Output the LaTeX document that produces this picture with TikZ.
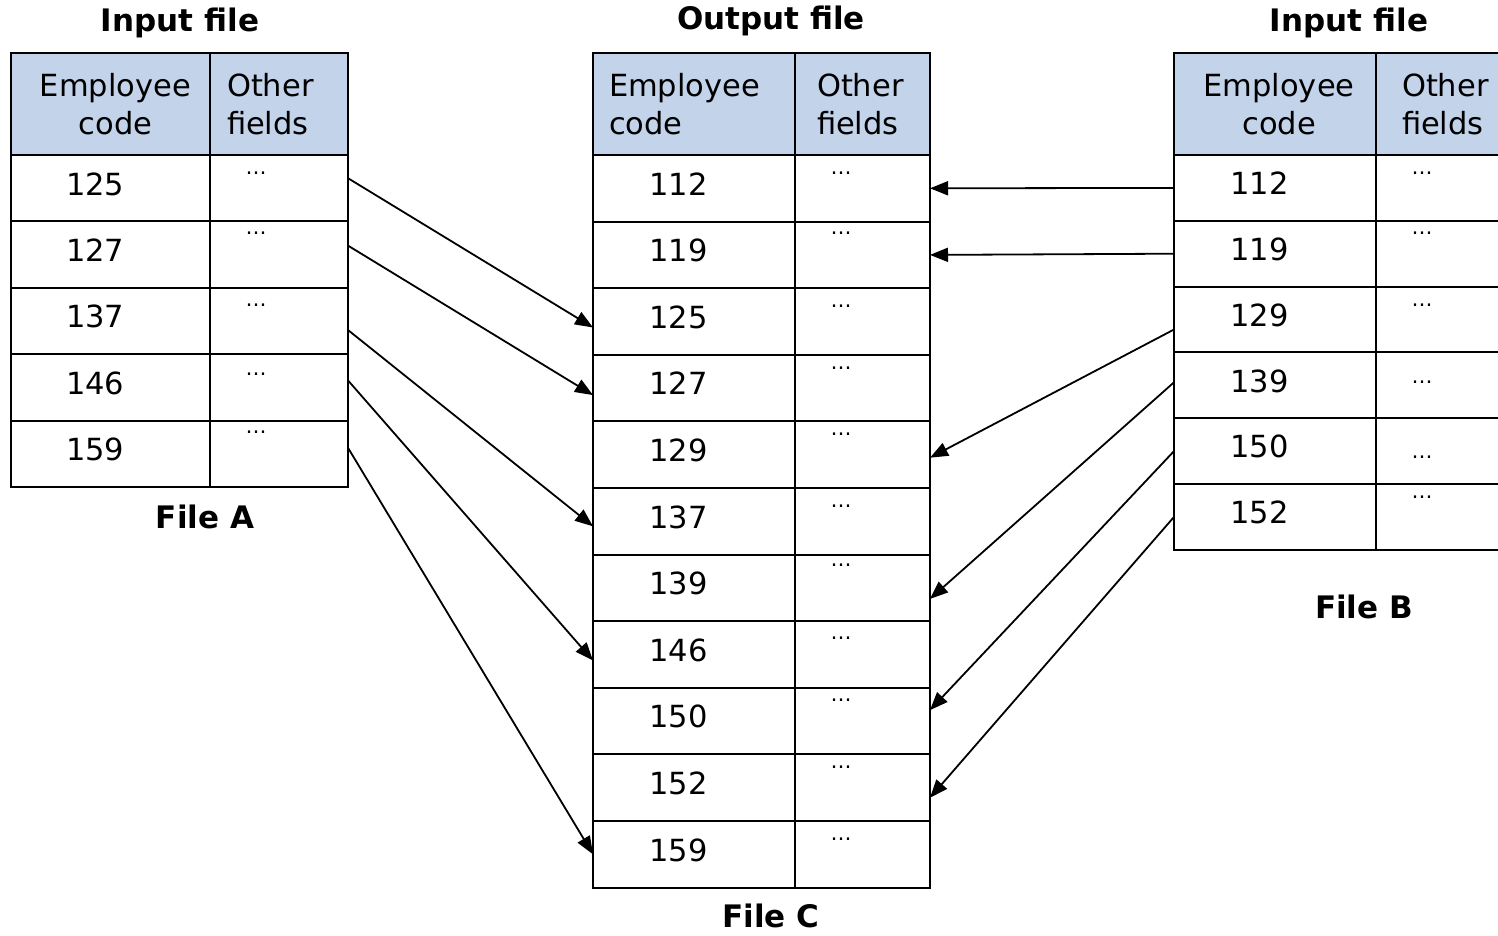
\documentclass[tikz,border=0pt]{standalone}
\usepackage{fontspec}
\setmainfont{DejaVu Sans}
\usetikzlibrary{arrows.meta}
\definecolor{headblue}{RGB}{195,211,234}

\begin{document}
\begin{tikzpicture}[x=1pt,y=-1pt,line width=2pt,
  font=\fontsize{30.5}{38}\selectfont,
  cell/.style={draw,anchor=north west,inner sep=0pt,outer sep=0pt},
  code cell/.style={cell,inner xsep=55pt,text width=89pt,align=left,text depth=9pt},
  head/.style={cell,fill=headblue,minimum height=102pt},
  dots/.style={font=\fontsize{21}{24}\selectfont,inner sep=0pt},
  title/.style={font=\fontsize{31}{38}\selectfont\bfseries},
  link/.style={-{Triangle[length=18pt,width=14pt]},line width=1.8pt}]

  \useasboundingbox (0,0) rectangle (1498,935);

  \node[title] (ttla) at (180,23) {Input file};
  \node[title] (ttlc) at (771,21) {Output file};
  \node[title] (ttlb) at (1349,23) {Input file};

  \node[head,minimum width=199pt,inner xsep=5pt,text width=199pt,align=center] (ah) at (11,53) {Employee\\code};
  \node[head,minimum width=138pt,inner xsep=17pt,text width=104pt,align=left] (axh) at (210,53) {Other\\fields};
  \node[head,minimum width=202pt,inner xsep=16pt,text width=170pt,align=left] (ch) at (593,53) {Employee\\code};
  \node[head,minimum width=135pt,inner xsep=22pt,text width=91pt,align=left] (cxh) at (795,53) {Other\\fields};
  \node[head,minimum width=202pt,inner xsep=4pt,text width=202pt,align=center] (bh) at (1174,53) {Employee\\code};
  \node[head,minimum width=138pt,inner xsep=26pt,text width=112pt,align=left] (bxh) at (1376,53) {Other\\fields};

  \foreach \n/\off [count=\i] in {125/18,127/12,137/17,146/20,159/12}{
    \node[code cell,minimum width=199pt,minimum height=66.4pt] (a\n) at (11,{155+(\i-1)*66.4}) {\n};
    \node[cell,minimum width=138pt,minimum height=66.4pt] (ax\n) at (210,{155+(\i-1)*66.4}) {};
    \node[dots] (ad\n) at ([xshift=46,yshift=-\off]ax\n.north west) {…};
  }
  \foreach \n/\off [count=\i] in {112/18,119/12,125/18,127/13,129/13,137/18,139/11,146/17,150/12,152/13,159/18}{
    \node[code cell,minimum width=202pt,minimum height=66.6pt] (c\n) at (593,{155+(\i-1)*66.6}) {\n};
    \node[cell,minimum width=135pt,minimum height=66.6pt] (cx\n) at (795,{155+(\i-1)*66.6}) {};
    \node[dots] (cd\n) at ([xshift=46,yshift=-\off]cx\n.north west) {…};
  }
  \foreach \n/\off [count=\i] in {112/18,119/12,129/19,139/30,150/39,152/13}{
    \node[code cell,minimum width=202pt,minimum height=65.8pt] (b\n) at (1174,{155+(\i-1)*65.8}) {\n};
    \node[cell,minimum width=138pt,minimum height=65.8pt] (bx\n) at (1376,{155+(\i-1)*65.8}) {};
    \node[dots] (bd\n) at ([xshift=46,yshift=-\off]bx\n.north west) {…};
  }

  \node[title] (filea) at (205,517) {File A};
  \node[title] (filec) at (771,916) {File C};
  \node[title] (fileb) at (1364,607) {File B};

  \path[link]
  ([yshift=10]ax125.east) edge ([yshift=-6]c125.west)
  ([yshift=9]ax127.east) edge ([yshift=-7]c127.west)
  ([yshift=-9]ax137.east) edge ([yshift=-5]c137.west)
  ([yshift=7]ax146.east) edge ([yshift=-6]c146.west)
  ([yshift=6]ax159.east) edge (c159.west)
  (b112.west) edge (cx112.east)
  (b119.west) edge (cx119.east)
  ([yshift=-10]b129.west) edge ([yshift=-3]cx129.east)
  ([yshift=3]b139.west) edge ([yshift=-11]cx139.east)
  (b150.west) edge ([yshift=11]cx150.east)
  (b152.west) edge ([yshift=-10]cx152.east);
\end{tikzpicture}
\end{document}
